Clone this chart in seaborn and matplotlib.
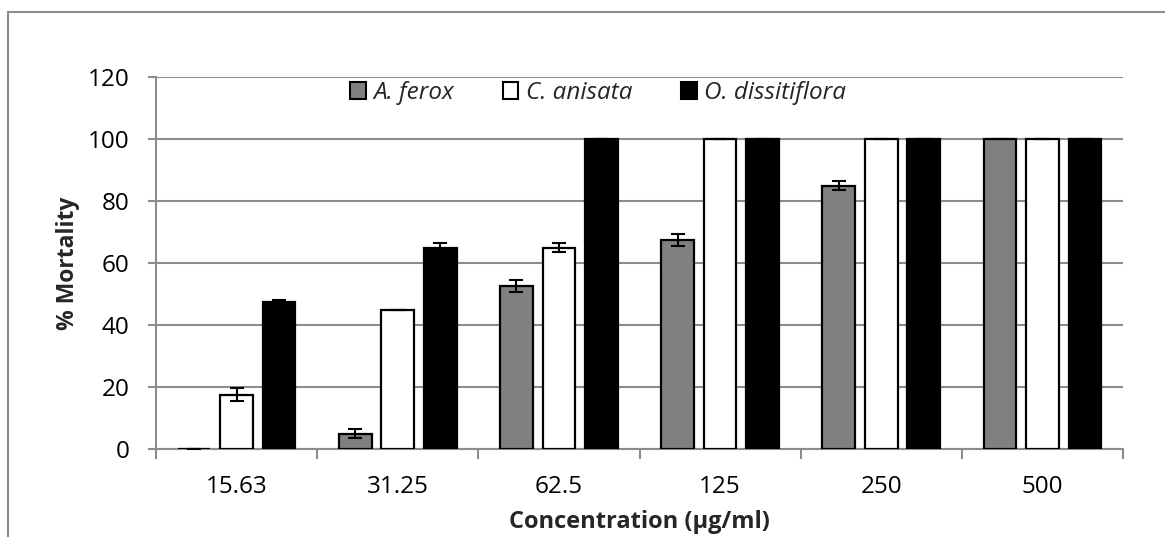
import matplotlib
matplotlib.use("Agg")
import matplotlib.pyplot as plt
from matplotlib.patches import Rectangle, Patch
import numpy as np
import pandas as pd
import seaborn as sns

concentrations = ["15.63", "31.25", "62.5", "125", "250", "500"]
species = ["A. ferox", "C. anisata", "O. dissitiflora"]
ferox = [0, 5, 52.5, 67.5, 85, 100]
anisata = [17.5, 45, 65, 100, 100, 100]
dissitiflora = [47.5, 65, 100, 100, 100, 100]
ferox_err = [0, 1.4, 2.0, 2.0, 1.3, 0]
anisata_err = [2.1, 0, 1.3, 0, 0, 0]
dissitiflora_err = [0.6, 1.3, 0, 0, 0, 0]

colors = ["#808080", "#ffffff", "#000000"]
grid_col = "#8c8c8c"

df = pd.DataFrame({
    "Concentration": concentrations * 3,
    "Species": [s for s in species for _ in concentrations],
    "Mortality": ferox + anisata + dissitiflora,
})
errors = [ferox_err, anisata_err, dissitiflora_err]

sns.set_theme(style="white")
plt.rcParams["font.family"] = ["Open Sans", "DejaVu Sans"]

fig = plt.figure(figsize=(11.65, 5.37), dpi=100)
ax = fig.add_axes([156 / 1165, 1 - 449 / 537, (1123 - 156) / 1165, (449 - 77) / 537])

sns.barplot(data=df, x="Concentration", y="Mortality", hue="Species",
            order=concentrations, hue_order=species, palette=colors,
            width=0.79, gap=0.23, edgecolor="black", linewidth=1.6,
            errorbar=None, legend=False, ax=ax, zorder=3)

# error bars centred on each bar
for cont, errs in zip(ax.containers, errors):
    xs = [p.get_x() + p.get_width() / 2 for p in cont.patches]
    ys = [p.get_height() for p in cont.patches]
    ax.errorbar(xs, ys, yerr=errs, fmt="none", ecolor="black",
                elinewidth=1.5, capsize=5, capthick=1.5, zorder=4)

ax.set_ylim(0, 120)
ax.set_xlim(-0.5, 5.5)
ax.set_yticks(np.arange(0, 121, 20))
ax.yaxis.grid(True, color=grid_col, linewidth=1.5, zorder=0)
ax.set_axisbelow(True)

for side in ["top", "right"]:
    ax.spines[side].set_visible(False)
for side in ["left", "bottom"]:
    ax.spines[side].set_visible(True)
    ax.spines[side].set_color(grid_col)
    ax.spines[side].set_linewidth(1.5)

ax.tick_params(axis="y", which="major", left=True, length=6, width=1.5,
               color=grid_col, labelsize=17.5, labelcolor="black", pad=13)
ax.tick_params(axis="x", which="major", bottom=False, labelsize=17.5,
               labelcolor="black", pad=13)
ax.set_xticks(np.arange(-0.5, 6, 1), minor=True)
ax.tick_params(axis="x", which="minor", bottom=True, length=7, width=1.5,
               color=grid_col)

ax.set_xlabel("Concentration (µg/ml)", fontsize=17, fontweight="bold",
              labelpad=8)
ax.set_ylabel("% Mortality", fontsize=16.5, fontweight="bold", labelpad=6)

handles = [Patch(facecolor=c, edgecolor="black", linewidth=1.5) for c in colors]
leg = fig.legend(handles, species, loc="center", ncol=3,
                 bbox_to_anchor=(598 / 1165, 1 - 93 / 537), frameon=False,
                 prop={"style": "italic", "size": 17.5},
                 handlelength=0.65, handleheight=0.65, handletextpad=0.3,
                 columnspacing=2.0)

# outer chart border
fig.patches.append(Rectangle((8 / 1165, -0.1), 1.2, 1 - 12 / 537 + 0.1,
                             transform=fig.transFigure, fill=False,
                             edgecolor=grid_col, linewidth=1.5))

fig.savefig("out.png", dpi=100, facecolor="white")
